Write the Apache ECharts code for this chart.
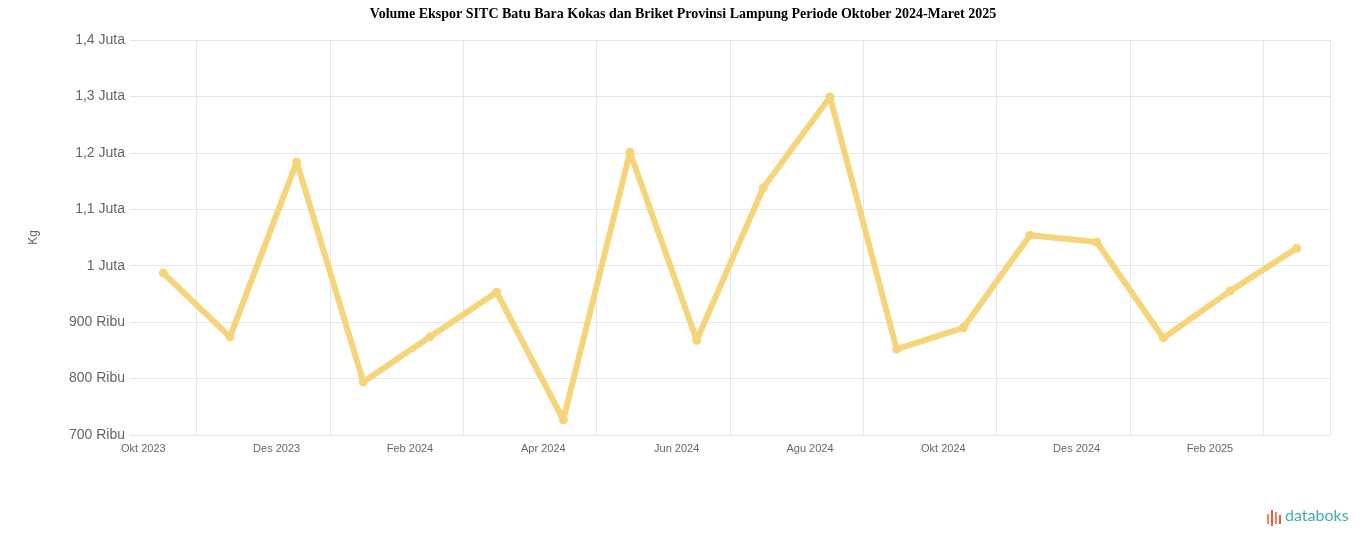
<!DOCTYPE html>
<html>
<head>
<meta charset="utf-8">
<script src="https://cdn.jsdelivr.net/npm/echarts@6/dist/echarts.min.js"></script>
<style>
html,body{margin:0;padding:0;background:#fff;}
#chart{width:1366px;height:547px;}
</style>
</head>
<body>
<div id="chart"></div>
<script>
const titleText = 'Volume Ekspor SITC Batu Bara Kokas dan Briket Provinsi Lampung Periode Oktober 2024-Maret 2025';
const categories = ['Okt 2023','Nov 2023','Des 2023','Jan 2024','Feb 2024','Mar 2024','Apr 2024','Mei 2024','Jun 2024','Jul 2024','Agu 2024','Sep 2024','Okt 2024','Nov 2024','Des 2024','Jan 2025','Feb 2025','Mar 2025'];
const volumeKg = [987000, 874000, 1184000, 794000, 874000, 953000, 727000, 1201000, 868000, 1138000, 1299000, 852000, 890000, 1054000, 1042000, 872000, 955000, 1031000];
const yAxisName = 'Kg';

function fmt(v){
  if (v >= 1000000) {
    const m = v/1000000;
    return (Number.isInteger(m) ? String(m) : m.toFixed(1).replace('.', ',')) + ' Juta';
  }
  return Math.round(v/1000) + ' Ribu';
}

const chart = echarts.init(document.getElementById('chart'));
chart.setOption({
  backgroundColor: '#fff',
  animation: false,
  title: {
    text: titleText,
    left: 'center',
    top: 2,
    textStyle: {fontFamily: 'Liberation Serif', fontWeight: 'bold', fontSize: 14, color: '#000'}
  },
  grid: {left: 130, right: 36, top: 40, bottom: 112},
  xAxis: {
    type: 'category',
    data: categories,
    boundaryGap: true,
    axisLine: {show: false},
    axisTick: {show: false},
    splitLine: {show: true, interval: function(i){ return i % 2 === 1; }, lineStyle: {color: '#e6e6e6'}},
    axisLabel: {interval: 1, fontSize: 11, color: '#666', fontFamily: 'Liberation Sans', margin: 8, padding: [0, 40, 0, 0]}
  },
  yAxis: {
    type: 'value',
    min: 700000,
    max: 1400000,
    interval: 100000,
    name: yAxisName,
    nameLocation: 'middle',
    nameGap: 90,
    nameRotate: 90,
    nameTextStyle: {fontSize: 12, color: '#666', fontFamily: 'Liberation Sans'},
    axisLine: {show: false},
    axisTick: {show: false},
    splitLine: {lineStyle: {color: '#e6e6e6'}},
    axisLabel: {fontSize: 14, color: '#666', fontFamily: 'Liberation Sans', margin: 5, formatter: fmt}
  },
  series: [{
    type: 'line',
    data: volumeKg,
    symbol: 'circle',
    symbolSize: 9,
    lineStyle: {width: 6, color: '#F6D47A'},
    itemStyle: {color: '#F6D47A'}
  }],
  graphic: [
    {type: 'rect', left: 1267, top: 514, shape: {width: 2, height: 10}, style: {fill: '#F08A4B'}},
    {type: 'rect', left: 1271, top: 510, shape: {width: 2, height: 16}, style: {fill: '#E9573F'}},
    {type: 'rect', left: 1275, top: 512, shape: {width: 2, height: 12}, style: {fill: '#F08A4B'}},
    {type: 'rect', left: 1279, top: 515, shape: {width: 2, height: 9}, style: {fill: '#E9573F'}},
    {type: 'text', left: 1285, top: 508, style: {text: 'databoks', fontSize: 16, fontFamily: 'Lato', fill: '#3FB0A8'}}
  ]
});
</script>
</body>
</html>
